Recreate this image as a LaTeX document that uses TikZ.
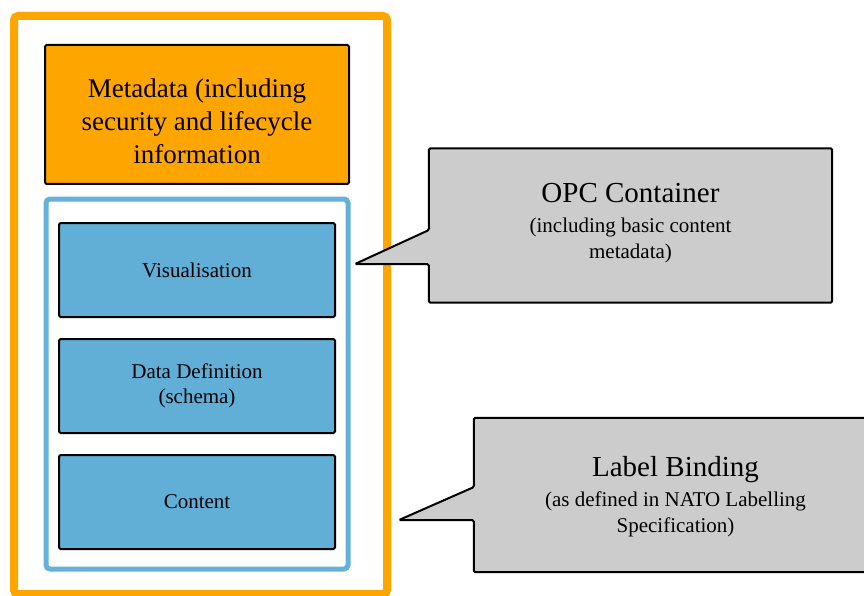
\documentclass[tikz,border=0pt]{standalone}
\usepackage{fontspec}
\setmainfont{Liberation Serif}
\usetikzlibrary{positioning}
\definecolor{frameorange}{HTML}{FFA500}
\definecolor{partblue}{HTML}{61AFD7}
\definecolor{edgeblue}{HTML}{64B1DA}
\definecolor{notegray}{HTML}{CCCCCC}

\begin{document}
\begin{tikzpicture}[x=1pt, y=-1pt,
        part/.style={draw=black, line width=2pt, fill=partblue, rounded corners=1.5pt,
            minimum width=276pt, minimum height=94pt, inner sep=0pt, align=center,
            font=\fontsize{21}{25}\selectfont},
        notebox/.style={minimum width=403pt, minimum height=154pt, inner sep=0pt},
        callout/.style={draw=black, line width=2pt, fill=notegray, rounded corners=1.5pt},
        notetext/.style={align=center, font=\fontsize{21}{26}\selectfont}]
        \useasboundingbox (0,0) rectangle (864,596);

        % Draw outer frame
        \draw[frameorange, line width=8pt, rounded corners=4pt] (14,16) rectangle (387,594);

        % Metadata block
        \node[draw=black, line width=2pt, fill=frameorange, rounded corners=1.5pt,
            minimum width=304pt, minimum height=139pt, align=center,
            font=\fontsize{27}{33}\selectfont] (meta) at (197,114.5)
            {\rule{0pt}{32pt}Metadata (including\\security and lifecycle\\information};

        % Draw inner frame
        \draw[edgeblue, line width=5pt, rounded corners=4pt] (46,199) rectangle (348,569);

        % Parts inside the inner frame
        \node[part] (vis) at (197,270) {Visualisation};
        \node[part, below=20pt of vis] (schema) {Data Definition\\(schema)};
        \node[part, below=20pt of schema] (content) {Content};

        % Callout for the container
        \node[notebox] (opc) at (630.5,225.5) {};
        \coordinate (opctip) at (355,264);
        \coordinate (opcbase) at (429,230);
        \draw[callout] (opcbase) -- (opc.north west) -- (opc.north east) -- (opc.south east)
            -- (opc.south west) -- (opc.west |- opctip) -- (opctip) -- cycle;
        \node[notetext] (opctext) at (630.5,223)
            {{\fontsize{29}{33}\selectfont OPC Container}\\[4pt](including basic content\\metadata)};

        % Callout for the binding
        \node[notebox] (lbl) at (675.5,495) {};
        \coordinate (lbltip) at (399,520);
        \coordinate (lblbase) at (474,487);
        \draw[callout] (lblbase) -- (lbl.north west) -- (lbl.north east) -- (lbl.south east)
            -- (lbl.south west) -- (lbl.west |- lbltip) -- (lbltip) -- cycle;
        \node[notetext] (lbltext) at (675.5,497)
            {{\fontsize{29}{33}\selectfont Label Binding}\\[4pt](as defined in NATO Labelling\\Specification)};
    \end{tikzpicture}
\end{document}
